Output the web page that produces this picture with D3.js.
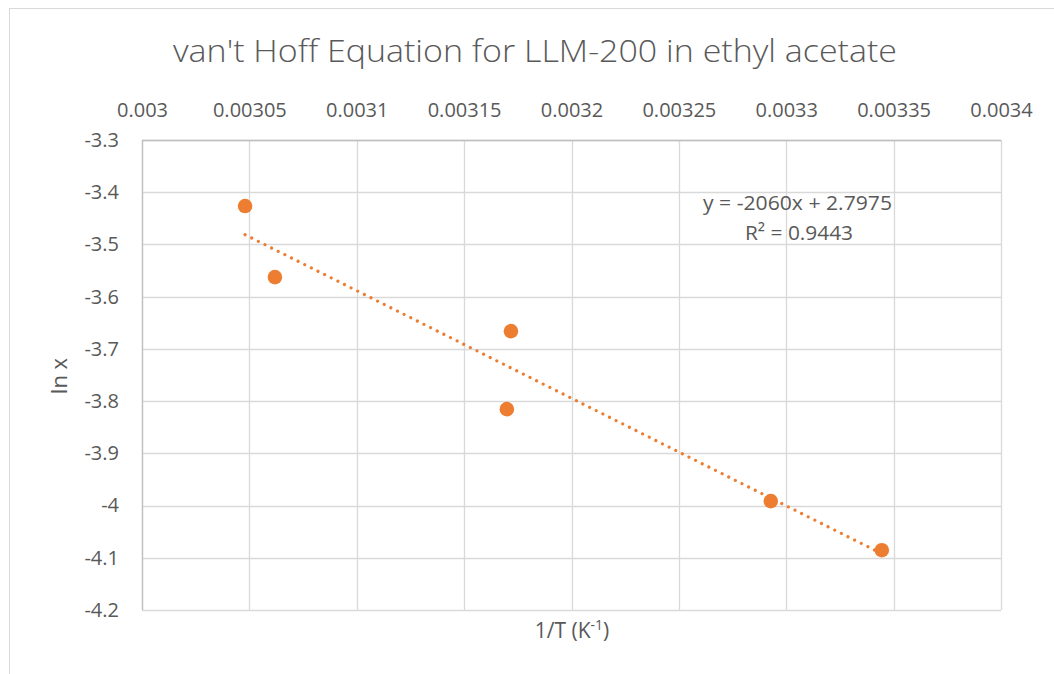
<!DOCTYPE html>
<html>
<head>
<meta charset="utf-8">
<script src="https://cdn.jsdelivr.net/npm/d3@7"></script>
<style>
  html, body { margin: 0; padding: 0; background: #fff; }
  svg { display: block; }
  text { font-family: "Open Sans", "Noto Sans", sans-serif; fill: #595959; }
</style>
</head>
<body>
<svg id="chart" width="1054" height="674"></svg>
<script>
// ---- data ----
const invT = [0.003048, 0.0030619, 0.0031718, 0.0031699, 0.0032928, 0.0033445];
const lnX  = [-3.4265, -3.5625, -3.666, -3.8154, -3.9915, -4.0855];
const xTicks = [0.003, 0.00305, 0.0031, 0.00315, 0.0032, 0.00325, 0.0033, 0.00335, 0.0034];
const xTickLabels = ["0.003", "0.00305", "0.0031", "0.00315", "0.0032", "0.00325", "0.0033", "0.00335", "0.0034"];
const yTicks = [-3.3, -3.4, -3.5, -3.6, -3.7, -3.8, -3.9, -4, -4.1, -4.2];
const yTickLabels = ["-3.3", "-3.4", "-3.5", "-3.6", "-3.7", "-3.8", "-3.9", "-4", "-4.1", "-4.2"];
const trendSlope = -2060;
const trendIntercept = 2.7975;
const trendLabel = ["y = -2060x + 2.7975", "R² = 0.9443"];
const title = "van't Hoff Equation for LLM-200 in ethyl acetate";
const xLabel = "1/T (K";
const yLabel = "ln x";

// ---- layout ----
const svg = d3.select("#chart");
const pL = 142, pR = 1001, pT = 140, pB = 610;
const orange = "#ED7D31";
const grid = "#D9D9D9";

// outer border
svg.append("rect").attr("x", 9.5).attr("y", 8.5).attr("width", 1100).attr("height", 700)
  .attr("fill", "none").attr("stroke", "#D9D9D9").attr("stroke-width", 1);

const x = d3.scaleLinear().domain([0.003, 0.0034]).range([pL, pR]);
const y = d3.scaleLinear().domain([-3.3, -4.2]).range([pT, pB]);

// gridlines
svg.append("g").selectAll("line").data(xTicks).join("line")
  .attr("x1", d => Math.round(x(d)) + 0.5).attr("x2", d => Math.round(x(d)) + 0.5)
  .attr("y1", pT).attr("y2", pB).attr("stroke", grid).attr("stroke-width", 1.3);
svg.append("g").selectAll("line").data(yTicks).join("line")
  .attr("y1", d => Math.round(y(d)) + 0.5).attr("y2", d => Math.round(y(d)) + 0.5)
  .attr("x1", pL).attr("x2", pR).attr("stroke", grid).attr("stroke-width", 1.3);

// axis lines (top horizontal axis and left vertical axis)
svg.append("line").attr("x1", pL).attr("x2", pR).attr("y1", Math.round(y(-3.3)) + 0.5).attr("y2", Math.round(y(-3.3)) + 0.5)
  .attr("stroke", "#BFBFBF").attr("stroke-width", 1.3);
svg.append("line").attr("x1", Math.round(x(0.003)) + 0.5).attr("x2", Math.round(x(0.003)) + 0.5).attr("y1", pT).attr("y2", pB)
  .attr("stroke", "#BFBFBF").attr("stroke-width", 1.3);

// tick labels
const xAxis = d3.axisTop(x).tickValues(xTicks).tickSize(0).tickPadding(0)
  .tickFormat((d, i) => xTickLabels[i]);
const gx = svg.append("g").attr("transform", `translate(0,${pT - 23})`).call(xAxis);
gx.select(".domain").remove();
gx.selectAll("text").attr("font-size", 20).attr("fill", "#595959")
  .style("font-family", '"Open Sans", sans-serif');

const yAxis = d3.axisLeft(y).tickValues(yTicks).tickSize(0).tickPadding(0)
  .tickFormat((d, i) => yTickLabels[i]);
const gy = svg.append("g").attr("transform", `translate(${pL - 23},0)`).call(yAxis);
gy.select(".domain").remove();
gy.selectAll("text").attr("font-size", 20).attr("fill", "#595959")
  .style("font-family", '"Open Sans", sans-serif');

// trendline
const tx0 = d3.min(invT), tx1 = d3.max(invT);
svg.append("line")
  .attr("x1", x(tx0)).attr("y1", y(trendSlope * tx0 + trendIntercept))
  .attr("x2", x(tx1)).attr("y2", y(trendSlope * tx1 + trendIntercept))
  .attr("stroke", orange).attr("stroke-width", 3.2)
  .attr("stroke-dasharray", "0.01 7.4").attr("stroke-linecap", "round");

// points
svg.append("g").selectAll("circle").data(invT).join("circle")
  .attr("cx", d => x(d)).attr("cy", (d, i) => y(lnX[i]))
  .attr("r", 7.3).attr("fill", orange);

// trend label
svg.append("text").attr("x", 797.5).attr("y", 210).attr("text-anchor", "middle")
  .attr("font-size", 20.5).attr("textLength", 189).attr("lengthAdjust", "spacingAndGlyphs").text(trendLabel[0]);
svg.append("text").attr("x", 799).attr("y", 240).attr("text-anchor", "middle")
  .attr("font-size", 20.5).attr("textLength", 108).attr("lengthAdjust", "spacingAndGlyphs").text(trendLabel[1]);

// title
svg.append("text").attr("x", 535).attr("y", 62).attr("text-anchor", "middle")
  .attr("font-size", 31).attr("font-weight", 300)
  .attr("textLength", 724).attr("lengthAdjust", "spacingAndGlyphs").text(title);

// axis titles
const xl = svg.append("text").attr("x", 572).attr("y", 638).attr("text-anchor", "middle").attr("font-size", 21);
xl.append("tspan").text(xLabel);
xl.append("tspan").attr("font-size", 14).attr("dy", -8).text("-1");
xl.append("tspan").attr("dy", 8).text(")");

svg.append("text").attr("transform", "translate(67,376) rotate(-90)").attr("text-anchor", "middle")
  .attr("font-size", 22).text(yLabel);
</script>
</body>
</html>
